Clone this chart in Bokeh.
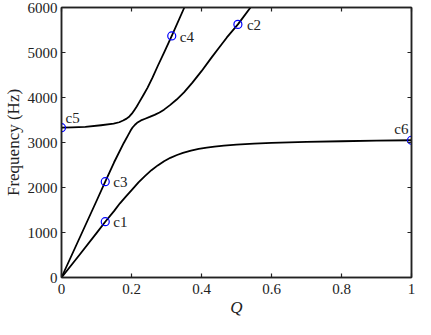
from bokeh.plotting import figure
from bokeh.models import LinearAxis, CustomJSTickFormatter, ColumnDataSource
from bokeh.core.properties import value
from bokeh.embed import file_html
from bokeh.resources import INLINE

# --- data ---
q_branch1 = [0, 0.05, 0.1, 0.125, 0.15, 0.167, 0.185, 0.203, 0.22, 0.239, 0.257, 0.275, 0.293,
             0.311, 0.33, 0.347, 0.37, 0.392, 0.415, 0.437, 0.464, 0.5, 0.55, 0.6, 0.7, 0.8, 0.9, 1.0]
f_branch1 = [0, 490, 985, 1240, 1475, 1649, 1810, 1965, 2115, 2260, 2385, 2491, 2585,
             2660, 2722, 2768, 2818, 2860, 2888, 2910, 2931, 2953, 2974, 2990, 3012, 3028, 3040, 3050]

q_branch2 = [0, 0.05, 0.1, 0.125, 0.15, 0.178, 0.19, 0.197, 0.203, 0.21, 0.216, 0.227, 0.239,
             0.252, 0.266, 0.28, 0.293, 0.31, 0.329, 0.35, 0.374, 0.4, 0.428, 0.45, 0.4725, 0.504, 0.54]
f_branch2 = [0, 850, 1700, 2130, 2555, 2990, 3158, 3260, 3333, 3395, 3438, 3490, 3528,
             3568, 3614, 3668, 3730, 3830, 3955, 4115, 4330, 4585, 4880, 5105, 5335, 5625, 6000]

q_branch3 = [0, 0.03, 0.068, 0.113, 0.149, 0.165, 0.176, 0.186, 0.194, 0.201, 0.208, 0.215,
             0.221, 0.2345, 0.246, 0.26, 0.275, 0.295, 0.315, 0.351]
f_branch3 = [3330, 3335, 3347, 3383, 3418, 3450, 3488, 3530, 3579, 3640, 3719, 3800,
             3880, 4060, 4220, 4440, 4700, 5030, 5368, 6000]

point_names = ["c1", "c2", "c3", "c4", "c5", "c6"]
point_q = [0.125, 0.504, 0.125, 0.315, 0.0, 1.0]
point_f = [1240, 5625, 2130, 5368, 3330, 3050]

x_ticks = [0, 0.2, 0.4, 0.6, 0.8, 1.0]
y_ticks = [0, 1000, 2000, 3000, 4000, 5000, 6000]

FONT = "Times New Roman"
INK = "#222222"

p = figure(width=415, height=319, x_range=(0, 1), y_range=(0, 6000),
           output_backend="svg", toolbar_location=None,
           min_border_left=48, min_border_right=4, min_border_top=7, min_border_bottom=34)
p.grid.visible = False
p.outline_line_color = INK
p.outline_line_width = 1.5
p.background_fill_color = "white"
p.border_fill_color = "white"

for xs, ys in [(q_branch1, f_branch1), (q_branch2, f_branch2), (q_branch3, f_branch3)]:
    p.line(xs, ys, line_color="black", line_width=1.8, line_join="round")

src = ColumnDataSource(dict(q=point_q, f=point_f))
p.scatter("q", "f", source=src, marker="circle", size=8, fill_color=None,
          line_color="#0000ff", line_width=1.2)

# label placement (screen offsets)
dx = [8, 9, 8, 8, 4, -3]
dy = [0, 1, 0, 1, -10, -11]
align = ["left", "left", "left", "left", "left", "right"]
lab = ColumnDataSource(dict(q=point_q, f=point_f, name=point_names, dx=dx, dy=dy, al=align))
p.text("q", "f", text="name", source=lab, x_offset="dx", y_offset="dy",
       text_align="al", text_baseline="middle", text_font=value(FONT),
       text_font_size="15px", text_color=INK)

fmt = CustomJSTickFormatter(code="return (Math.round(tick*10)/10).toString();")
blank = CustomJSTickFormatter(code="return '';")

def style_axis(ax):
    ax.axis_line_color = INK
    ax.axis_line_width = 1.5
    ax.major_tick_in = 4
    ax.major_tick_out = 0
    ax.major_tick_line_color = INK
    ax.major_tick_line_width = 1.2
    ax.minor_tick_line_color = None
    ax.major_label_text_font = FONT
    ax.major_label_text_font_size = "15px"
    ax.major_label_text_color = INK
    ax.axis_label_text_font = FONT
    ax.axis_label_text_font_size = "17px"
    ax.axis_label_text_color = INK
    ax.axis_label_text_font_style = "normal"

p.xaxis.ticker = x_ticks
p.xaxis.formatter = fmt
p.yaxis.ticker = y_ticks
p.xaxis.axis_label = "Q"
p.yaxis.axis_label = "Frequency (Hz)"
style_axis(p.xaxis[0])
style_axis(p.yaxis[0])
p.xaxis.axis_label_text_font_style = "italic"
p.xaxis.major_label_standoff = 6
p.yaxis.major_label_standoff = 4
p.xaxis.axis_label_standoff = 1
p.yaxis.axis_label_standoff = 2

top = LinearAxis(ticker=x_ticks, formatter=blank, major_label_standoff=0)
right = LinearAxis(ticker=y_ticks, formatter=blank, major_label_standoff=0)
style_axis(top)
style_axis(right)
p.add_layout(top, "above")
p.add_layout(right, "right")

open("out.html", "w").write(file_html(p, INLINE))
